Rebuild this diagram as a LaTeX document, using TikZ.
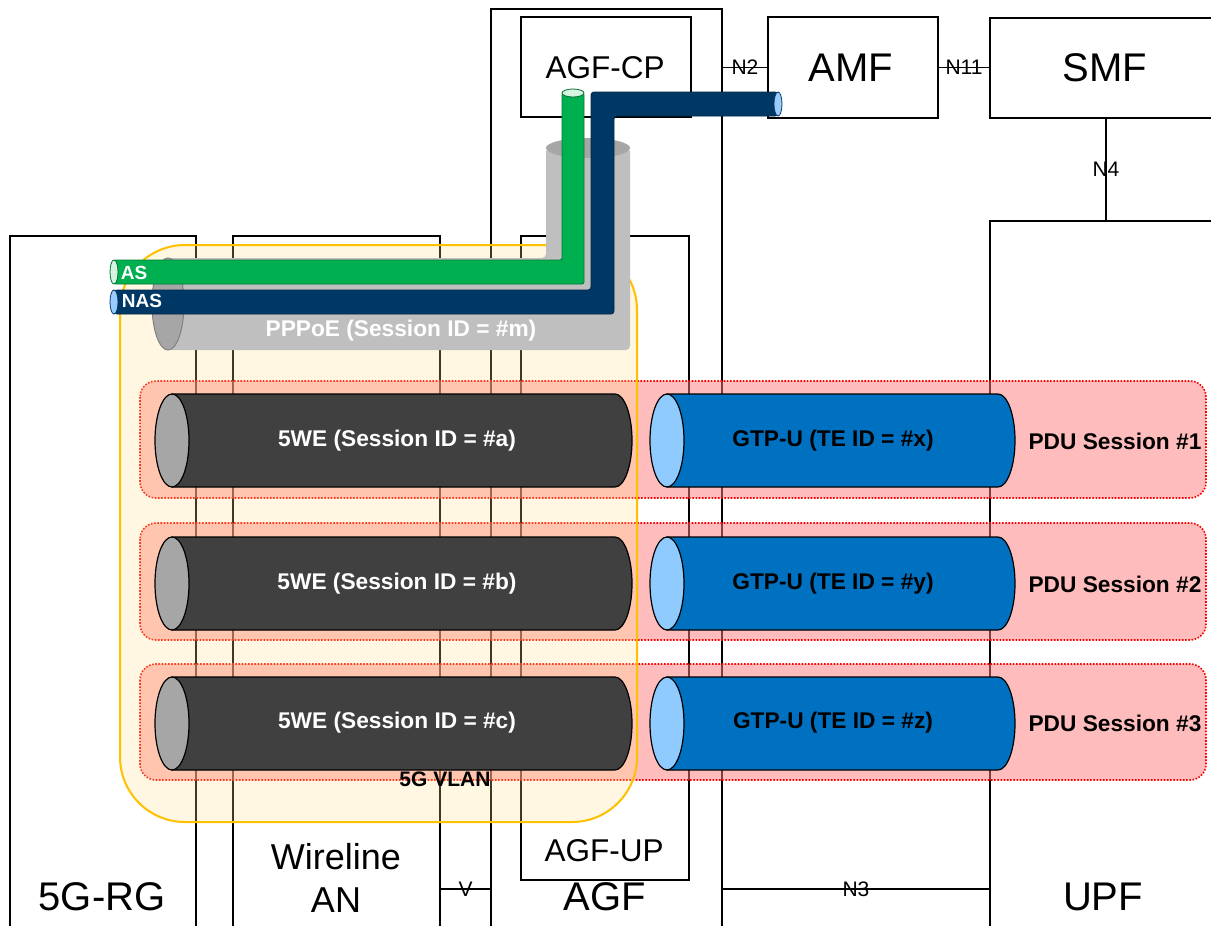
\documentclass[tikz,border=0pt]{standalone}
\usepackage{fontspec}
\setmainfont{Liberation Sans}
\definecolor{agreen}{HTML}{00B050}
\definecolor{agreenl}{HTML}{D5F5E0}
\definecolor{anavy}{HTML}{003865}
\definecolor{alblue}{HTML}{99CCFF}
\definecolor{pgray}{HTML}{BFBFBF}
\definecolor{pdgray}{HTML}{A6A6A6}
\definecolor{wdark}{HTML}{404040}
\definecolor{gblue}{HTML}{0070C0}
\definecolor{gface}{HTML}{8FCBFF}
\definecolor{pdured}{HTML}{FF7B7B}
\definecolor{vlanfill}{HTML}{FFE28A}
\definecolor{vlanedge}{HTML}{FFC000}
\newcommand\hcyl[7]{%
  \filldraw[draw=black, line width=1.2pt, fill=#6] (#1,#3-#4) -- (#2,#3-#4) arc[start angle=-90, end angle=90, x radius=#5, y radius=#4] -- (#1,#3+#4) -- cycle;
  \filldraw[draw=black, line width=1.2pt, fill=#7] (#1,#3) ellipse[x radius=#5, y radius=#4];
}
\begin{document}
\begin{tikzpicture}[x=1pt,y=-1pt,
  box/.style={draw=black, line width=2pt, anchor=north west, inner sep=0pt},
  conn/.style={draw=black, line width=1.2pt},
  big/.style={font=\fontsize{40}{48}\selectfont, inner sep=0pt},
  mid/.style={font=\fontsize{31.5}{38}\selectfont, inner sep=0pt},
  ifl/.style={font=\fontsize{21}{25}\selectfont, inner sep=0pt},
  ttext/.style={font=\bfseries\fontsize{22.7}{27}\selectfont, inner sep=0pt},
  ptext/.style={font=\bfseries\fontsize{19}{23}\selectfont, inner sep=0pt, text=white},
  pdu/.style={draw=red, line width=1.6pt, dash pattern=on 1.6pt off 1.6pt, fill=pdured, fill opacity=0.5, draw opacity=1, rounded corners=16pt},
  vlan/.style={draw=vlanedge, line width=2pt, fill=vlanfill, fill opacity=0.25, rounded corners=65pt}
]
\useasboundingbox (0,0) rectangle (1211,926);
\fill[white] (0,0) rectangle (1211,926);

% boxes
\node[box, minimum width=186pt, minimum height=720pt] (rg) at (9,235) {};
\node[box, minimum width=207pt, minimum height=720pt] (wan) at (232,235) {};
\node[box, minimum width=231pt, minimum height=960pt] (agf) at (490,8) {};
\node[box, minimum width=170pt, minimum height=100pt] (agfcp) at (520,16) {};
\node[box, minimum width=168pt, minimum height=644pt] (agfup) at (520,235) {};
\node[box, minimum width=170pt, minimum height=101pt] (amf) at (767,16) {};
\node[box, minimum width=232pt, minimum height=100pt] (smf) at (989,17) {};
\node[box, minimum width=232pt, minimum height=740pt] (upf) at (989,220) {};

% labels of boxes
\node[big] (lrg) at (102,897) {5G-RG};
\node[font=\fontsize{36}{43}\selectfont, inner sep=0pt, align=center] (lwan) at (336,878) {Wireline\\AN};
\node[big] (lagf) at (605,897) {AGF};
\node[big] (lupf) at (1103,897) {UPF};
\node[mid] (lagfcp) at (605,68) {AGF-CP};
\node[mid] (lagfup) at (604,851) {AGF-UP};
\node[big] (lamf) at (851,68) {AMF};
\node[big] (lsmf) at (1105,68) {SMF};

% interfaces
\coordinate (vy) at (0,889);
\draw[conn] (agf.east |- amf.west) -- (amf.west) node[midway, ifl] (n2) {N2};
\draw[conn] (amf.east) -- (amf.east -| smf.west) node[midway, ifl] (n11) {N11};
\draw[conn] (smf.south) -- (smf.south |- upf.north) node[midway, ifl] (n4) {N4};
\draw[conn] (wan.east |- vy) -- (agf.west |- vy) node[midway, ifl] (nv) {V};
\draw[conn] (agf.east |- vy) -- (upf.west |- vy) node[midway, ifl] (n3) {N3};

% PDU session areas
\path[pdu] (140,381) rectangle (1206,498);
\path[pdu] (140,523) rectangle (1206,640);
\path[pdu] (140,664) rectangle (1206,780);

% 5G VLAN area
\path[vlan] (120,245) rectangle (637,822);
\node[font=\bfseries\fontsize{21}{25}\selectfont, inner sep=0pt] (lvlan) at (445,779) {5G VLAN};

% PPPoE tube
\fill[pgray, rounded corners=4pt] (168,258) -- (546,258) -- (546,148) -- (630,148) -- (630,350) -- (168,350) -- cycle;
\fill[pdgray] (588,148) ellipse[x radius=42, y radius=10];
\filldraw[fill=pdgray, draw=gray, line width=1pt] (168,304) ellipse[x radius=16, y radius=46];
\node[ttext, text=white] (tppp) at (401,331) {PPPoE (Session ID = \#m)};

% AS pipe
\filldraw[fill=agreen, draw=agreen!70!black, line width=0.8pt, rounded corners=2pt] (114,260) -- (562,260) -- (562,93) -- (584,93) -- (584,284) -- (114,284) -- cycle;
\filldraw[fill=agreenl, draw=agreen!60!black, line width=0.8pt] (114,272) ellipse[x radius=4, y radius=12];
\filldraw[fill=agreenl, draw=agreen!60!black, line width=0.8pt] (573,93) ellipse[x radius=11, y radius=4];
\node[ptext] (tas) at (134,273) {AS};

% NAS pipe
\filldraw[fill=anavy, draw=anavy!70!black, line width=0.8pt, rounded corners=3pt] (114,290) -- (591,290) -- (591,92) -- (778,92) -- (778,116) -- (614,116) -- (614,314) -- (114,314) -- cycle;
\filldraw[fill=alblue, draw=anavy, line width=0.8pt] (114,302) ellipse[x radius=4, y radius=12];
\filldraw[fill=alblue, draw=anavy, line width=0.8pt] (778,104) ellipse[x radius=4, y radius=12];
\node[ptext] (tnas) at (142,301) {NAS};

% 5WE tubes
\hcyl{172}{615}{440.5}{46.5}{17}{wdark}{pdgray}
\hcyl{172}{615}{583.5}{46.5}{17}{wdark}{pdgray}
\hcyl{172}{615}{723.5}{46.5}{17}{wdark}{pdgray}
\node[ttext, text=white] (ta) at (397,441) {5WE (Session ID = \#a)};
\node[ttext, text=white] (tb) at (397,584) {5WE (Session ID = \#b)};
\node[ttext, text=white] (tc) at (397,723) {5WE (Session ID = \#c)};

% GTP-U tubes
\hcyl{667}{998}{440.5}{46.5}{17}{gblue}{gface}
\hcyl{667}{998}{583.5}{46.5}{17}{gblue}{gface}
\hcyl{667}{998}{723.5}{46.5}{17}{gblue}{gface}
\node[ttext] (tx) at (833,441) {GTP-U (TE ID = \#x)};
\node[ttext] (ty) at (833,584) {GTP-U (TE ID = \#y)};
\node[ttext] (tz) at (833,723) {GTP-U (TE ID = \#z)};

% PDU labels
\node[ttext] (p1) at (1115,441) {PDU Session \#1};
\node[ttext] (p2) at (1115,584) {PDU Session \#2};
\node[ttext] (p3) at (1115,723) {PDU Session \#3};
\end{tikzpicture}
\end{document}
